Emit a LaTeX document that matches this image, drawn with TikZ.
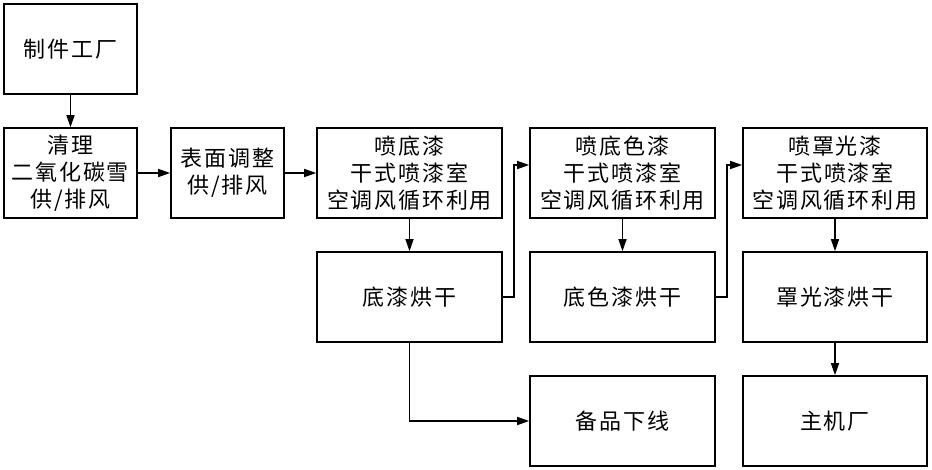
\documentclass[tikz,border=0pt]{standalone}
\usepackage{fontspec}
\setmainfont{Noto Sans CJK SC}[LetterSpace=8]
\usetikzlibrary{arrows.meta}
\begin{document}
\begin{tikzpicture}[x=1pt,y=-1pt,
  box/.style={draw, line width=1.6pt, inner sep=0pt, align=center,
    minimum height=90pt, font=\fontsize{22}{27}\selectfont},
  arr/.style={-{Triangle[length=12pt,width=8pt]}, line width=1.4pt}]
\useasboundingbox (0,0) rectangle (932,469);
\node[box, minimum width=133pt] (a) at (70.5,49) {制件工厂};
\node[box, minimum width=133pt] (b) at (70.5,173) {清理\\二氧化碳雪\\供/排风};
\node[box, minimum width=113pt] (c) at (227.5,173) {表面调整\\供/排风};
\node[box, minimum width=185pt] (d) at (409.5,173) {喷底漆\\干式喷漆室\\空调风循环利用};
\node[box, minimum width=185pt] (e) at (409.5,297) {底漆烘干};
\node[box, minimum width=185pt] (f) at (622.5,173) {喷底色漆\\干式喷漆室\\空调风循环利用};
\node[box, minimum width=185pt] (g) at (622.5,297) {底色漆烘干};
\node[box, minimum width=184pt] (h) at (835,173) {喷罩光漆\\干式喷漆室\\空调风循环利用};
\node[box, minimum width=184pt] (i) at (835,297) {罩光漆烘干};
\node[box, minimum width=185pt] (j) at (622.5,421) {备品下线};
\node[box, minimum width=184pt] (k) at (835,421) {主机厂};
\draw[arr] (a) -- (b);
\draw[arr] (b) -- (c);
\draw[arr] (c) -- (d);
\draw[arr] (d) -- (e);
\draw[arr] (f) -- (g);
\draw[arr] (h) -- (i);
\draw[arr] (i) -- (k);
\draw[arr] (e.east) -- ++(11,0) |- ([yshift=8pt]f.west);
\draw[arr] (g.east) -- ++(11,0) |- ([yshift=8pt]h.west);
\draw[arr] (e.south) |- (j.west);
\end{tikzpicture}
\end{document}
